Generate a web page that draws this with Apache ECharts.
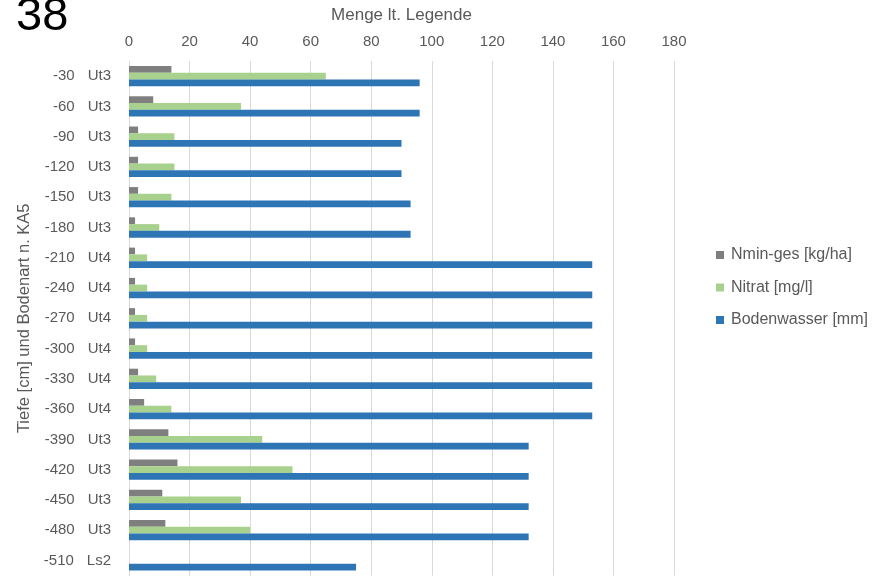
<!DOCTYPE html>
<html>
<head>
<meta charset="utf-8">
<script src="https://cdn.jsdelivr.net/npm/echarts@6/dist/echarts.min.js"></script>
<style>
    html, body { margin: 0; padding: 0; background: #fff; }
    #chart { width: 887px; height: 578px; }
</style>
</head>
<body>
<div id="chart"></div>
<script>
// Tiefe und Bodenart
var depths = ['-30', '-60', '-90', '-120', '-150', '-180', '-210', '-240', '-270', '-300', '-330', '-360', '-390', '-420', '-450', '-480', '-510'];
var soils = ['Ut3', 'Ut3', 'Ut3', 'Ut3', 'Ut3', 'Ut3', 'Ut4', 'Ut4', 'Ut4', 'Ut4', 'Ut4', 'Ut4', 'Ut3', 'Ut3', 'Ut3', 'Ut3', 'Ls2'];

var nminValues = [14, 8, 3, 3, 3, 2, 2, 2, 2, 2, 3, 5, 13, 16, 11, 12, 0];
var nitratValues = [65, 37, 15, 15, 14, 10, 6, 6, 6, 6, 9, 14, 44, 54, 37, 40, 0];
var wasserValues = [96, 96, 90, 90, 93, 93, 153, 153, 153, 153, 153, 153, 132, 132, 132, 132, 75];

var seriesNames = ['Nmin-ges [kg/ha]', 'Nitrat [mg/l]', 'Bodenwasser [mm]'];

var categories = depths.map(function (d, i) { return d + '|' + soils[i]; });

var chart = echarts.init(document.getElementById('chart'));
var textColor = '#595959';
var font = 'Liberation Sans, Arial, sans-serif';

var option = {
    animation: false,
    color: ['#7f7f7f', '#a9d18e', '#2e75b6'],
    textStyle: { fontFamily: font },
    title: {
        text: '38',
        left: 11,
        top: -11,
        textStyle: { fontSize: 47, fontWeight: 'normal', color: '#000', fontFamily: font }
    },
    legend: {
        orient: 'vertical',
        left: 711,
        top: 242,
        itemWidth: 8,
        itemHeight: 8,
        itemGap: 16.5,
        icon: 'rect',
        textStyle: { color: textColor, fontSize: 16, padding: [0, 0, 0, 2] },
        data: seriesNames
    },
    grid: {
        left: 129,
        right: 213,
        top: 61,
        bottom: 2.4,
        containLabel: false,
        outerBoundsMode: 'none'
    },
    xAxis: {
        type: 'value',
        position: 'top',
        min: 0,
        max: 180,
        interval: 20,
        name: 'Menge lt. Legende',
        nameLocation: 'middle',
        nameGap: 37,
        nameTextStyle: { color: textColor, fontSize: 17 },
        axisLine: { show: false },
        axisTick: { show: false },
        axisLabel: { color: textColor, fontSize: 15, margin: 12 },
        splitLine: { lineStyle: { color: '#d9d9d9', width: 1 } }
    },
    yAxis: {
        type: 'category',
        inverse: true,
        data: categories,
        name: 'Tiefe [cm] und Bodenart n. KA5',
        nameLocation: 'middle',
        nameGap: 89,
        nameTextStyle: { color: textColor, fontSize: 16.5 },
        axisLine: { show: true, lineStyle: { color: '#d9d9d9' } },
        axisTick: { show: false },
        axisLabel: {
            margin: 18,
            formatter: function (v) {
                var p = v.split('|');
                return '{a|' + p[0] + '}{b|' + p[1] + '}';
            },
            rich: {
                a: { color: textColor, fontSize: 15 },
                b: { color: textColor, fontSize: 15, padding: [0, 0, 0, 13] }
            }
        }
    },
    series: [
        { name: seriesNames[0], type: 'bar', data: nminValues, barGap: '0%', barCategoryGap: '33%' },
        { name: seriesNames[1], type: 'bar', data: nitratValues, barGap: '0%', barCategoryGap: '33%' },
        { name: seriesNames[2], type: 'bar', data: wasserValues, barGap: '0%', barCategoryGap: '33%' }
    ]
};

chart.setOption(option);
</script>
</body>
</html>
